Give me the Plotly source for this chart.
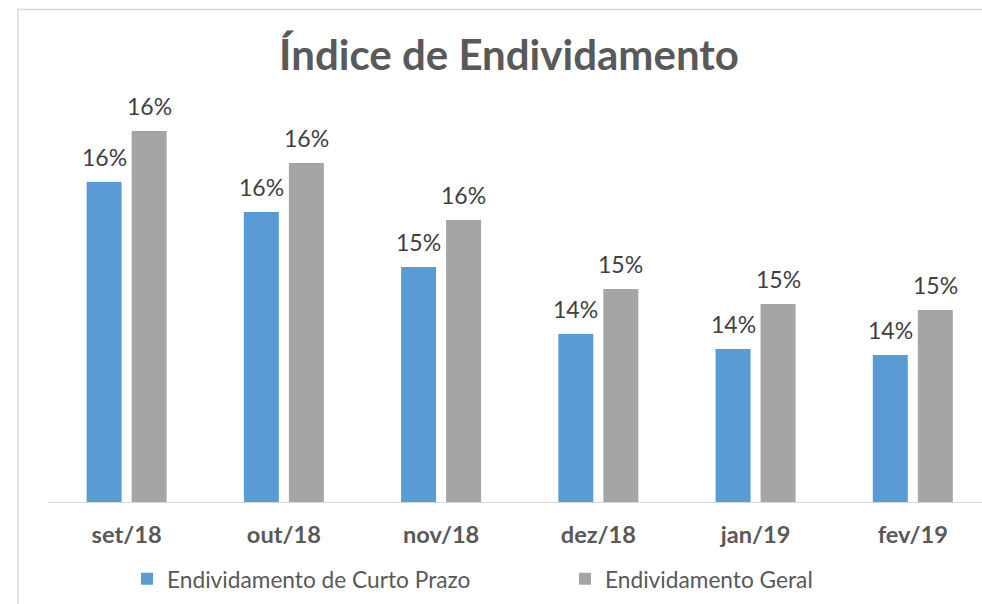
import plotly.graph_objects as go

categories = ["set/18", "out/18", "nov/18", "dez/18", "jan/19", "fev/19"]
curto_prazo = [0.1590, 0.1560, 0.1505, 0.1438, 0.1423, 0.1417]
geral = [0.1641, 0.1609, 0.1552, 0.1483, 0.1468, 0.1462]
series_names = ["Endividamento de Curto Prazo", "Endividamento Geral"]
colors = ["#5B9BD5", "#A5A5A5"]

W, H = 982, 604
ml, mr, mt, mb = 48, 0, 62, 102
pw, ph = W - ml - mr, H - mt - mb

font_fam = "Lato, 'Open Sans', sans-serif"

fig = go.Figure()
legend_ids = ["legend", "legend2"]
legend_x = [127, 565]
for name, vals, col, lid in zip(series_names, [curto_prazo, geral], colors, legend_ids):
    fig.add_trace(go.Bar(x=categories, y=vals, name=name, marker_color=col,
                         marker_line_width=0, legend=lid, showlegend=True))

annotations = []
for shift, vals in zip([-22.5, 22.5], [curto_prazo, geral]):
    for c, v in zip(categories, vals):
        annotations.append(dict(x=c, y=v, xref="x", yref="y", text=f"{v:.0%}",
                                showarrow=False, xshift=shift, yshift=9,
                                yanchor="bottom", xanchor="center",
                                font=dict(family=font_fam, size=23, color="#404040")))

legend_common = dict(orientation="h", xanchor="left", yanchor="middle",
                     y=(502 - 579) / ph, bgcolor="rgba(0,0,0,0)", visible=True,
                     font=dict(family=font_fam, size=22.7, color="#595959"))

border = "#D9D9D9"
xl = (18 - ml) / pw
yt = (502 - 9.5) / ph
yb = (502 - 610) / ph
fig.update_layout(
    width=W, height=H,
    margin=dict(l=ml, r=mr, t=mt, b=mb),
    paper_bgcolor="white", plot_bgcolor="white",
    showlegend=True,
    title=dict(text="<b>Índice de Endividamento</b>", x=509 / W, xanchor="center",
               y=1 - 55 / H, yanchor="middle",
               font=dict(family=font_fam, size=42, color="#595959")),
    barmode="group", bargap=0.4275, bargroupgap=0.2225,
    xaxis=dict(range=[-0.5, 5.44], showgrid=False, showline=True, linecolor=border,
               linewidth=1, ticks="", ticklabelstandoff=12, zeroline=False,
               tickfont=dict(family=font_fam, size=23.6, color="#595959", weight="bold")),
    yaxis=dict(range=[0.127, 0.171], visible=False, showline=False, zeroline=False,
               showgrid=False),
    legend=dict(x=(legend_x[0] - ml) / pw, **legend_common),
    legend2=dict(x=(legend_x[1] - ml) / pw, **legend_common),
    annotations=annotations,
    shapes=[
        dict(type="path", xref="paper", yref="paper",
             path=f"M {xl} {yb} L {xl} {yt} L 1.02 {yt}",
             line=dict(color=border, width=1.5), fillcolor="rgba(0,0,0,0)",
             layer="below"),
    ],
)

fig.write_html("out.html", config={"displayModeBar": False})
